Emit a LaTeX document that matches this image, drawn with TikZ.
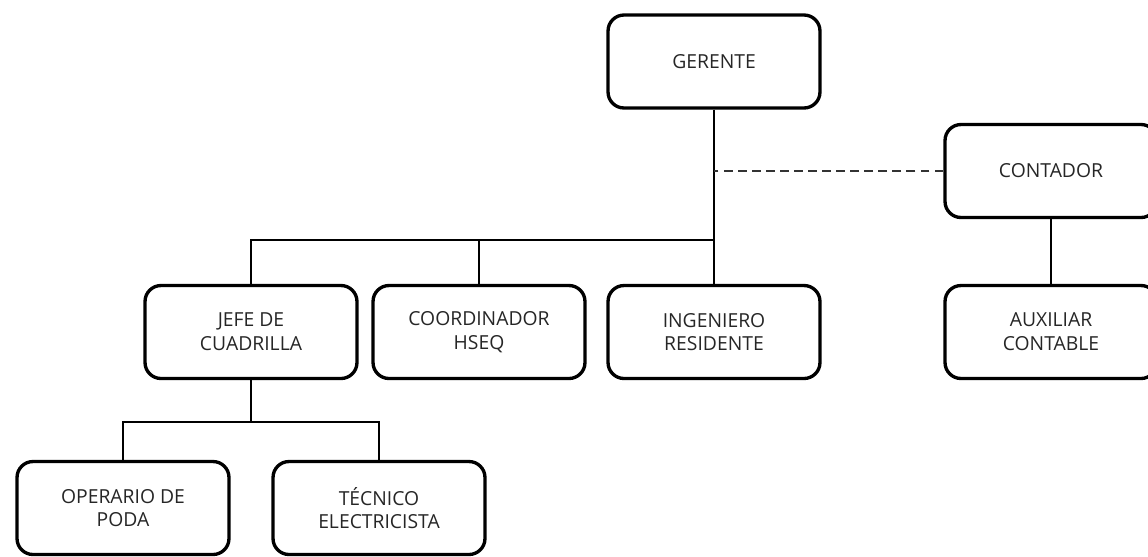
\documentclass[tikz,border=0pt]{standalone}
\usepackage{fontspec}
\setmainfont{Open Sans}
\usepackage{tikz}
\usetikzlibrary{positioning,calc}

\begin{document}
\begin{tikzpicture}[x=0.02cm,y=-0.02cm,
  caja/.style={draw,line width=1.9pt,rounded corners=0.32cm,align=center,
    minimum width=4.24cm,minimum height=1.86cm,inner sep=2pt,
    font=\fontsize{11}{13.5}\selectfont,text=black!85},
  linea/.style={line width=1.4pt},
  punteada/.style={line width=0.9pt,dash pattern=on 5pt off 3pt,black!80}]
\useasboundingbox (0,0) rectangle (1148,556);
% cargos
\node[caja] (gerente) at (714,61.5) {GERENTE};
\node[caja] (contador) at (1051,171) {CONTADOR};
\node[caja] (jefe) at (251,332) {JEFE DE\\CUADRILLA};
\node[caja] (coord) at (479,332) {COORDINADOR\\HSEQ};
\node[caja] (ingeniero) at (714,332) {INGENIERO\\RESIDENTE};
\node[caja] (auxiliar) at (1051,332) {AUXILIAR\\CONTABLE};
\node[caja] (operario) at (123,508) {OPERARIO DE\\PODA};
\node[caja] (tecnico) at (379,508) {TÉCNICO\\ELECTRICISTA};

\coordinate (bus) at (714,240);
\coordinate (sub) at (251,422);

% lineas
\draw[linea] (gerente) -- (ingeniero);
\draw[linea] (jefe.north) |- (bus);
\draw[linea] (coord.north) -- (coord.north |- bus);
\draw[punteada] (contador.west) -- (contador.west -| gerente.south);
\draw[linea] (contador) -- (auxiliar);
\draw[linea] (jefe) -- (sub);
\draw[linea] (operario.north) |- (sub) -| (tecnico.north);
\end{tikzpicture}
\end{document}
